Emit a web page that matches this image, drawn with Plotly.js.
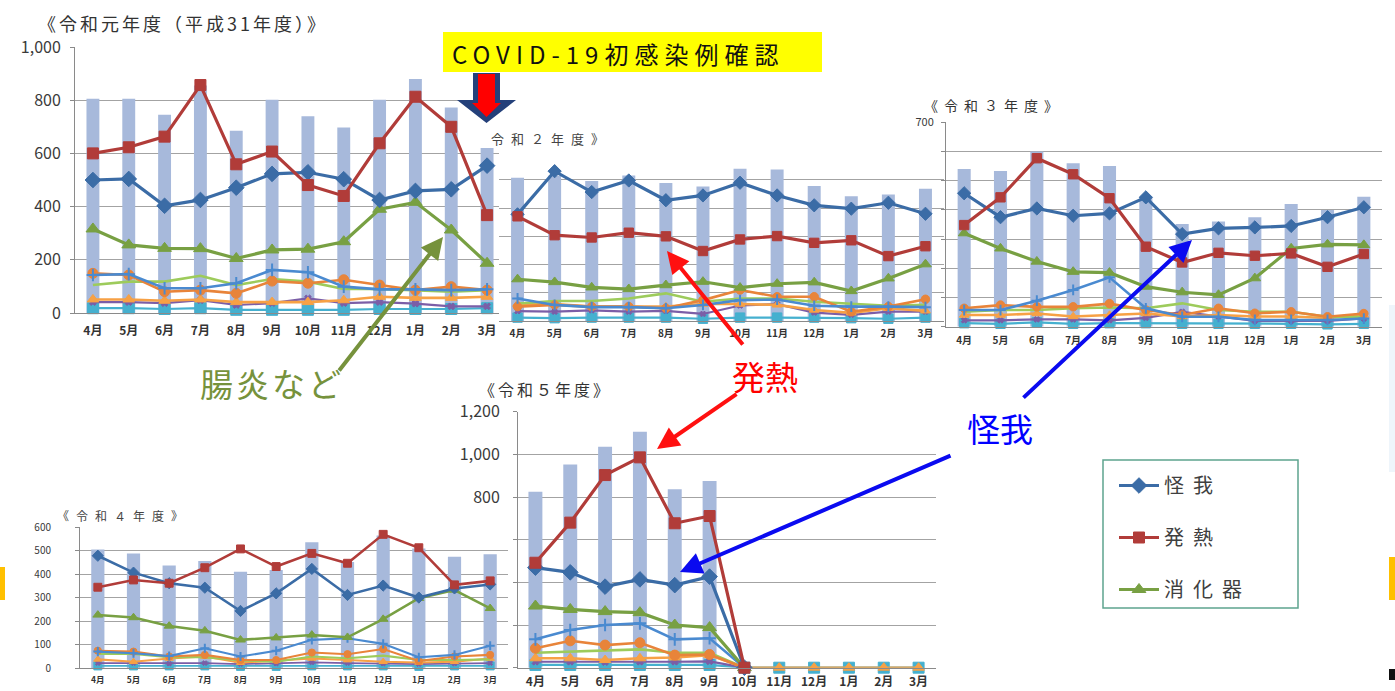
<!DOCTYPE html>
<html>
<head>
<meta charset="utf-8">
<script src="https://cdn.plot.ly/plotly-3.0.1.min.js"></script>
<style>
  html, body { margin: 0; padding: 0; background: #ffffff; }
  #chart { width: 1395px; height: 691px; }
</style>
</head>
<body>
<div id="chart"></div>
<script>
// ---- categories ----
const months = ['4月', '5月', '6月', '7月', '8月', '9月', '10月', '11月', '12月', '1月', '2月', '3月'];

// ---- 令和元年度（平成31年度） ----
const r1Total     = [805, 805, 745, 855, 685, 802, 740, 697, 802, 880, 773, 620];
const r1Injury    = [500, 504, 403, 425, 471, 523, 529, 503, 425, 459, 465, 554];
const r1Fever     = [600, 623, 663, 857, 559, 607, 481, 440, 638, 813, 700, 368];
const r1Digestive = [316, 256, 243, 242, 205, 237, 240, 268, 390, 416, 312, 187];
const r1OtherA    = [143, 146, 93, 93, 112, 162, 153, 99, 89, 89, 86, 89];
const r1OtherB    = [149, 143, 80, 86, 74, 120, 112, 125, 105, 86, 99, 86];
const r1OtherC    = [105, 118, 118, 140, 105, 128, 118, 90, 90, 86, 80, 86];
const r1OtherD    = [51, 51, 46, 51, 41, 41, 41, 48, 61, 57, 57, 61];
const r1OtherE    = [41, 41, 37, 48, 30, 37, 55, 37, 41, 35, 25, 25];
const r1OtherF    = [18, 18, 15, 18, 12, 12, 12, 12, 15, 15, 15, 18];

// ---- 令和２年度 ----
const r2Total     = [508, 515, 496, 516, 489, 477, 540, 537, 478, 442, 448, 469];
const r2Injury    = [378, 531, 457, 498, 428, 445, 490, 445, 410, 398, 419, 380];
const r2Fever     = [371, 304, 296, 313, 300, 248, 289, 301, 277, 286, 230, 265];
const r2Digestive = [148, 138, 119, 113, 127, 139, 118, 132, 137, 106, 151, 201];
const r2OtherA    = [80, 57, 49, 49, 45, 57, 74, 76, 54, 51, 51, 49];
const r2OtherB    = [51, 57, 51, 51, 45, 74, 110, 86, 86, 33, 51, 77];
const r2OtherC    = [62, 71, 71, 80, 98, 68, 80, 80, 68, 62, 54, 57];
const r2OtherD    = [60, 60, 51, 51, 51, 60, 60, 57, 39, 29, 45, 36];
const r2OtherE    = [35, 33, 38, 33, 36, 25, 55, 60, 30, 22, 33, 33];
const r2OtherF    = [12, 10, 12, 12, 12, 8, 12, 12, 12, 10, 8, 12];

// ---- 令和３年度 ----
const r3Total     = [540, 533, 600, 560, 550, 445, 352, 360, 375, 420, 400, 445];
const r3Injury    = [457, 375, 405, 380, 388, 443, 317, 337, 340, 345, 375, 409];
const r3Fever     = [348, 443, 577, 522, 440, 274, 220, 253, 243, 251, 205, 249];
const r3Digestive = [320, 268, 223, 188, 185, 137, 118, 109, 166, 268, 282, 280];
const r3OtherA    = [57, 57, 89, 126, 169, 63, 34, 34, 23, 23, 23, 28];
const r3OtherB    = [63, 74, 68, 68, 79, 57, 40, 63, 46, 51, 34, 45];
const r3OtherC    = [51, 57, 57, 63, 66, 63, 80, 57, 51, 51, 34, 34];
const r3OtherD    = [40, 40, 45, 35, 40, 45, 35, 40, 35, 35, 30, 40];
const r3OtherE    = [22, 22, 25, 25, 22, 30, 51, 35, 20, 20, 20, 28];
const r3OtherF    = [12, 10, 15, 10, 12, 12, 10, 10, 10, 10, 8, 10];

// ---- 令和４年度 ----
const r4Total     = [506, 489, 437, 457, 411, 418, 536, 452, 565, 510, 475, 485];
const r4Injury    = [479, 407, 362, 343, 244, 319, 423, 312, 352, 301, 340, 357];
const r4Fever     = [345, 376, 362, 428, 508, 433, 489, 447, 570, 513, 355, 372];
const r4Digestive = [227, 216, 180, 160, 121, 130, 142, 132, 209, 298, 333, 255];
const r4OtherA    = [71, 64, 52, 85, 50, 75, 121, 128, 104, 47, 57, 96];
const r4OtherB    = [75, 71, 50, 57, 35, 35, 67, 60, 82, 31, 50, 57];
const r4OtherC    = [61, 61, 47, 47, 33, 28, 50, 43, 54, 35, 35, 38];
const r4OtherD    = [38, 28, 42, 50, 24, 33, 42, 35, 28, 25, 28, 42];
const r4OtherE    = [22, 22, 20, 22, 18, 20, 25, 22, 20, 18, 20, 22];
const r4OtherF    = [10, 10, 10, 10, 8, 8, 10, 10, 10, 8, 10, 10];

// ---- 令和５年度 (9月まで) ----
const r5Total     = [825, 953, 1036, 1106, 836, 875, null, null, null, null, null, null];
const r5Injury    = [469, 447, 380, 414, 387, 427, 0, null, null, null, null, null];
const r5Fever     = [492, 680, 903, 986, 677, 711, 0, null, null, null, null, null];
const r5Digestive = [289, 273, 263, 258, 200, 188, 0, null, null, null, null, null];
const r5OtherA    = [133, 177, 200, 208, 133, 138, 0, null, null, null, null, null];
const r5OtherB    = [91, 126, 106, 117, 59, 62, 0, null, null, null, null, null];
const r5OtherC    = [70, 75, 80, 86, 70, 70, 0, null, null, null, null, null];
const r5OtherD    = [44, 44, 36, 44, 48, 59, 0, 0, 0, 0, 0, 0];
const r5OtherE    = [28, 28, 26, 28, 28, 30, 0, null, null, null, null, null];
const r5OtherF    = [13, 13, 13, 13, 13, 13, 0, 0, 0, 0, 0, 0];

// ---- y tick labels ----
const r1TickLabels = ['0', '200', '400', '600', '800', '1,000'];
const r2TickLabels = ['', '', '', '', '', '', ''];
const r3TickLabels = ['', '', '', '', '', '', '', '700'];
const r4TickLabels = ['0', '100', '200', '300', '400', '500', '600'];
const r5TickLabels = ['', '', '', '', '800', '1,000', '1,200'];

// ---- legend names ----
const legendNames = { injury: '怪我', fever: '発熱', digestive: '消化器' };

// ================= drawing =================
const W = 1395, H = 691;
const fx = v => v / W;
const fy = v => 1 - v / H;
const FONT = '"Noto Sans CJK JP", "Noto Sans", sans-serif';

const years = [
  { total: r1Total, injury: r1Injury, fever: r1Fever, digestive: r1Digestive,
    otherA: r1OtherA, otherB: r1OtherB, otherC: r1OtherC, otherD: r1OtherD, otherE: r1OtherE, otherF: r1OtherF, ticks: r1TickLabels },
  { total: r2Total, injury: r2Injury, fever: r2Fever, digestive: r2Digestive,
    otherA: r2OtherA, otherB: r2OtherB, otherC: r2OtherC, otherD: r2OtherD, otherE: r2OtherE, otherF: r2OtherF, ticks: r2TickLabels },
  { total: r3Total, injury: r3Injury, fever: r3Fever, digestive: r3Digestive,
    otherA: r3OtherA, otherB: r3OtherB, otherC: r3OtherC, otherD: r3OtherD, otherE: r3OtherE, otherF: r3OtherF, ticks: r3TickLabels },
  { total: r4Total, injury: r4Injury, fever: r4Fever, digestive: r4Digestive,
    otherA: r4OtherA, otherB: r4OtherB, otherC: r4OtherC, otherD: r4OtherD, otherE: r4OtherE, otherF: r4OtherF, ticks: r4TickLabels },
  { total: r5Total, injury: r5Injury, fever: r5Fever, digestive: r5Digestive,
    otherA: r5OtherA, otherB: r5OtherB, otherC: r5OtherC, otherD: r5OtherD, otherE: r5OtherE, otherF: r5OtherF, ticks: r5TickLabels }
];

// panel geometry in page pixels
const panels = [
  { x: [75, 505],   y: [47, 313],      max: 1000, step: 200, yFont: 16, xFont: 12,  showLine: true,  barW: 0.36, k: 1.0,  standoff: 6,  xPad: 7 },
  { x: [499, 944],  y: [151.7, 321],   max: 600,  step: 100, yFont: 10, xFont: 10,  showLine: false, barW: 0.35, k: 0.85, standoff: 4,  xPad: 3 },
  { x: [946, 1382], y: [122.3, 326.7], max: 700,  step: 100, yFont: 11, xFont: 10,  showLine: true,  barW: 0.36, k: 0.85, standoff: 5,  xPad: 4 },
  { x: [80, 508],   y: [527.3, 668.3], max: 600,  step: 100, yFont: 10, xFont: 8.5, showLine: true,  barW: 0.37, k: 0.72, standoff: 22, xPad: 3 },
  { x: [518, 936],  y: [411.7, 667.7], max: 1200, step: 200, yFont: 16, xFont: 12,  showLine: true,  barW: 0.40, k: 1.0,  standoff: 10, xPad: 3 }
];

const styles = {
  otherF:    { color: '#45b0cf', symbol: 'square',          size: 11, width: 2.2, mode: 'lines+markers' },
  otherE:    { color: '#7b5ea7', symbol: 'x',               size: 6,  width: 2.2, mode: 'lines+markers' },
  otherD:    { color: '#f7a145', symbol: 'triangle-up',     size: 10, width: 2.6, mode: 'lines+markers' },
  otherC:    { color: '#9dcb5b', symbol: 'circle',          size: 4,  width: 2.6, mode: 'lines' },
  otherB:    { color: '#e8843a', symbol: 'circle',          size: 10, width: 2.6, mode: 'lines+markers' },
  otherA:    { color: '#4a8ad0', symbol: 'cross-thin',      size: 9,  width: 2.6, mode: 'lines+markers' },
  digestive: { color: '#78a043', symbol: 'triangle-up',     size: 12, width: 3.2, mode: 'lines+markers' },
  injury:    { color: '#3b6ca6', symbol: 'diamond',         size: 12, width: 3.2, mode: 'lines+markers' },
  fever:     { color: '#b13c39', symbol: 'square',          size: 11, width: 3.2, mode: 'lines+markers' }
};
const drawOrder = ['otherF', 'otherE', 'otherD', 'otherC', 'otherB', 'otherA', 'digestive', 'injury', 'fever'];
const legendRank = { injury: 1, fever: 2, digestive: 3 };

const traces = [];
const layout = {
  width: W, height: H,
  margin: { l: 0, r: 0, t: 0, b: 0 },
  paper_bgcolor: '#ffffff',
  plot_bgcolor: '#ffffff',
  showlegend: true,
  font: { family: FONT, color: '#333333' },
  legend: {
    x: fx(1114), y: fy(466), xanchor: 'left', yanchor: 'top',
    bgcolor: 'rgba(0,0,0,0)', borderwidth: 0,
    font: { family: FONT, size: 20, color: '#404040' },
    traceorder: 'grouped', tracegroupgap: 23, itemwidth: 40
  },
  annotations: [],
  shapes: []
};

years.forEach((yr, i) => {
  const p = panels[i];
  const n = i === 0 ? '' : String(i + 1);
  const xa = 'x' + n, ya = 'y' + n;

  traces.push({
    type: 'bar', x: months, y: yr.total, xaxis: xa, yaxis: ya,
    width: p.barW, marker: { color: '#a7b9db' }, showlegend: false, hoverinfo: 'skip'
  });

  drawOrder.forEach(key => {
    const s = styles[key];
    const t = {
      type: 'scatter', mode: s.mode, x: months, y: yr[key], xaxis: xa, yaxis: ya,
      line: { color: s.color, width: s.width * (p.k < 0.8 ? 0.8 : 1) },
      marker: { color: s.color, symbol: s.symbol, size: s.size * p.k,
                line: { color: s.color, width: key === 'otherA' ? 2 : 1 } },
      cliponaxis: false, connectgaps: false, showlegend: false, hoverinfo: 'skip'
    };
    if (i === 0 && legendNames[key]) {
      t.name = legendNames[key];
      t.showlegend = true;
      t.legendgroup = key;
      t.legendrank = legendRank[key];
    }
    traces.push(t);
  });

  const tickVals = [];
  for (let v = 0; v <= p.max; v += p.step) tickVals.push(v);

  layout['xaxis' + n] = {
    domain: [fx(p.x[0]), fx(p.x[1])], anchor: ya,
    type: 'category', range: [-0.5, 11.5], fixedrange: true,
    showline: true, linecolor: '#8a8a8a', linewidth: 1,
    showgrid: false, zeroline: false,
    ticks: 'outside', ticklen: p.xPad, tickcolor: 'rgba(0,0,0,0)',
    tickfont: { family: FONT, size: p.xFont, color: '#333333', weight: 'bold' }
  };
  layout['yaxis' + n] = {
    domain: [fy(p.y[1]), fy(p.y[0])], anchor: xa,
    range: [0, p.max], fixedrange: true,
    tickmode: 'array', tickvals: tickVals, ticktext: yr.ticks,
    showgrid: true, gridcolor: '#a3a3a3', gridwidth: 1, zeroline: false,
    showline: p.showLine, linecolor: '#8a8a8a', linewidth: 1,
    ticks: p.showLine ? 'outside' : '', ticklen: 4, tickcolor: '#8a8a8a',
    ticklabelstandoff: p.standoff,
    tickfont: { family: FONT, size: p.yFont, color: '#3a3a3a' }
  };
});

// minor tick marks on the right edge of the 令和５年度 panel
layout.yaxis6 = {
  overlaying: 'y5', anchor: 'x5', side: 'right',
  range: [0, 1200], fixedrange: true, dtick: 100,
  showgrid: false, zeroline: false, showline: true, linecolor: '#b0b0b0',
  ticks: 'inside', ticklen: 4, tickcolor: '#b0b0b0', showticklabels: false
};

// ---- titles and callouts ----
const addText = (text, x, y, size, color, xanchor) => layout.annotations.push({
  text, xref: 'paper', yref: 'paper', x: fx(x), y: fy(y),
  xanchor: xanchor || 'left', yanchor: 'middle', align: 'left', showarrow: false,
  font: { family: FONT, size, color }
});
const addArrow = (hx, hy, tx, ty, color) => layout.annotations.push({
  text: '', xref: 'paper', yref: 'paper', x: fx(hx), y: fy(hy),
  ax: tx - hx, ay: ty - hy, axref: 'pixel', ayref: 'pixel',
  showarrow: true, arrowhead: 2, arrowsize: 1.1, arrowwidth: 4, arrowcolor: color
});

addText('《令和元年度（平成31年度）》', 36, 23, 18, '#333333');
addText('令和２年度》', 489, 138, 13, '#444444');
addText('《令和３年度》', 922, 105, 14, '#333333');
addText('《令和４年度》', 55, 515, 12, '#444444');
addText('《令和５年度》', 477, 389, 16, '#333333');
addText('COVID-19初感染例確認', 450, 53, 24, '#111111');

addText('腸炎など', 198, 383, 33, '#76923c');
addText('発熱', 765, 376, 33, '#ff0000', 'center');
addText('怪我', 1000, 428, 33, '#0000ff', 'center');

addArrow(443, 237, 338, 372, '#76923c');
addArrow(667, 251, 744, 346, '#ff1010');
addArrow(657, 449, 738, 393, '#ff1010');
addArrow(1192, 240, 1022, 399, '#0a0af0');
addArrow(680, 572, 952, 455, '#0a0af0');

// ---- decorative shapes ----
const rectPx = (x0, y0, x1, y1, fill, line) => ({
  type: 'rect', xref: 'paper', yref: 'paper', layer: 'above',
  x0: fx(x0), x1: fx(x1), y0: fy(y1), y1: fy(y0),
  fillcolor: fill, line: line || { width: 0 }
});
const pathPx = (pts, fill, line) => ({
  type: 'path', xref: 'paper', yref: 'paper', layer: 'above',
  path: 'M ' + pts.map(p => fx(p[0]) + ',' + fy(p[1])).join(' L ') + ' Z',
  fillcolor: fill, line: line || { width: 0 }
});

layout.shapes.push(rectPx(443, 32, 822, 72, '#ffff00'));
layout.shapes.push(pathPx([[473, 73], [500, 73], [500, 100], [516, 100], [486.5, 123], [457, 100], [473, 100]], '#24407a'));
layout.shapes.push(pathPx([[478, 74], [495, 74], [495, 103], [501, 103], [486.5, 117], [472, 103], [478, 103]], '#ff0000'));
layout.shapes.push(rectPx(1103, 460, 1298, 608, 'rgba(0,0,0,0)', { color: '#5ea48e', width: 1.5 }));
layout.shapes.push(rectPx(0, 567, 5, 600, '#ffc000'));
layout.shapes.push(rectPx(1389, 557, 1395, 600, '#ffc000'));
layout.shapes.push(rectPx(1389, 305, 1395, 472, '#eef5fb'));
layout.shapes.push(rectPx(1389, 669, 1395, 680, '#111111'));

// wider glyph pitch for some labels (text-anchor is start, so they grow rightwards)
const spacing = {
  'COVID-19初感染例確認': 6,
  '《令和元年度（平成31年度）》': 3,
  '令和２年度》': 7,
  '《令和３年度》': 6,
  '《令和４年度》': 7,
  '《令和５年度》': 3,
  '腸炎など': 3
};

Plotly.newPlot('chart', traces, layout, { displayModeBar: false, staticPlot: true }).then(gd => {
  gd.querySelectorAll('.annotation-text').forEach(t => {
    const s = spacing[t.textContent];
    if (s) t.style.letterSpacing = s + 'px';
  });
  gd.querySelectorAll('.legendtext').forEach(t => { t.style.letterSpacing = '9px'; });
  // let the widened legend labels show in full
  gd.querySelectorAll('.legend [clip-path]').forEach(e => e.removeAttribute('clip-path'));
});
</script>
</body>
</html>
